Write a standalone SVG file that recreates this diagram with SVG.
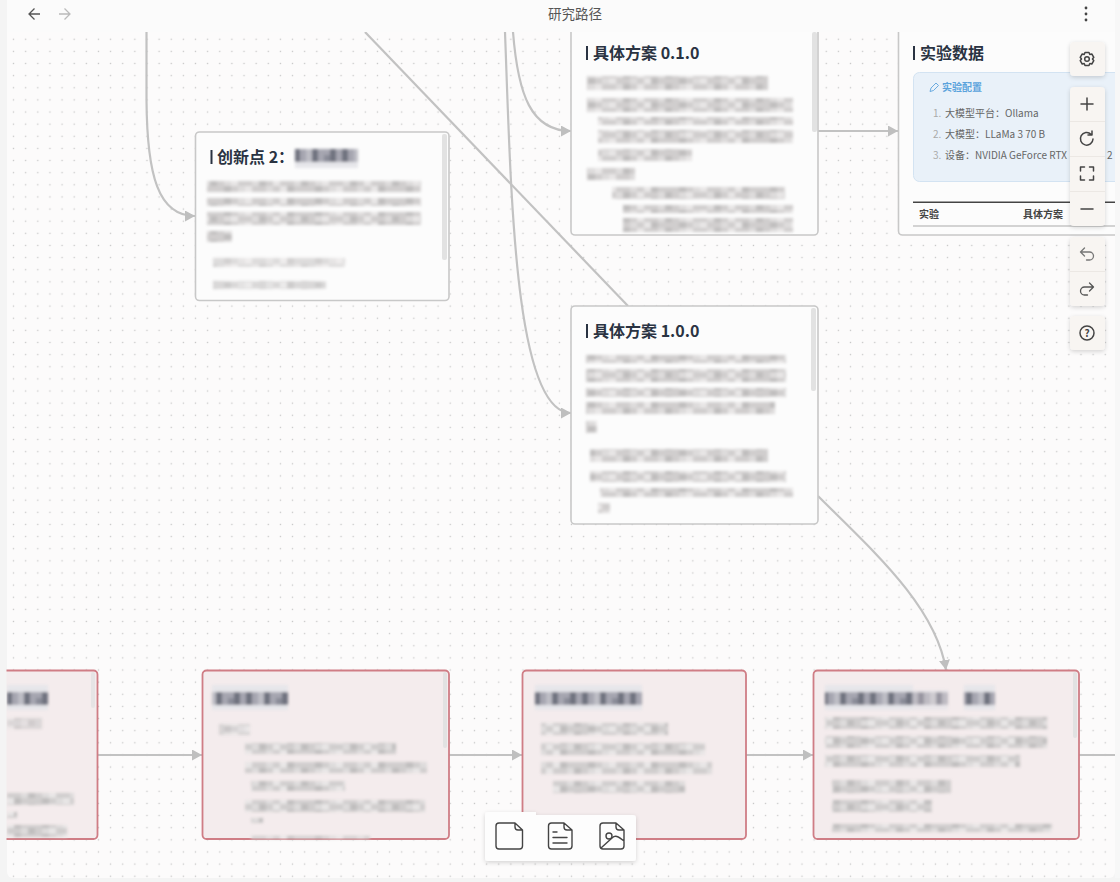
<svg xmlns="http://www.w3.org/2000/svg" width="1120" height="882" viewBox="0 0 1120 882">
<style>
text{font-family:"Noto Sans CJK SC","Noto Sans",sans-serif}
.card{fill:#fcfcfc;stroke:#c8c8c8;stroke-width:1.6}
.pink{fill:#f4eced;stroke:#cf7d85;stroke-width:1.8}
.edge{fill:none;stroke:#c2c2c2;stroke-width:2.2}
.t{font-size:16px;font-weight:700;fill:#2a3342}
.bar{fill:#2a3342}
.m{fill:url(#mos);mix-blend-mode:multiply}
.d{fill:url(#mosd);mix-blend-mode:multiply}
.sb{fill:#e2e2e2}
.li{font-size:10px;fill:#666}
.no{font-size:10px;fill:#aaa}
.th{font-size:10px;font-weight:700;fill:#444}
.tb{fill:#f8f5f2}
.ic{fill:none;stroke:#444;stroke-width:1.4;stroke-linecap:round;stroke-linejoin:round}
.ib{fill:none;stroke:#444;stroke-width:1.5;stroke-linecap:round;stroke-linejoin:round}
</style>
<defs>
<pattern id="dots" width="12.13" height="12.13" patternUnits="userSpaceOnUse" x="7.5" y="33.2"><rect x="5.4" y="5.4" width="1.3" height="1.3" fill="#c6c6c6"/></pattern>
<pattern id="mos" width="91" height="12" patternUnits="userSpaceOnUse">
<rect width="91" height="12" fill="#dedcdc"/>
<g fill="#d0cece">
<rect x="7" width="14" height="6"/><rect x="35" width="7" height="6"/><rect x="56" width="14" height="6"/><rect x="84" width="7" height="6"/>
<rect y="6" width="7" height="6"/><rect x="21" y="6" width="21" height="6"/><rect x="49" y="6" width="7" height="6"/><rect x="70" y="6" width="14" height="6"/>
</g>
<g fill="#c0bebe">
<rect x="14" y="6" width="7" height="6"/><rect x="42" y="6" width="7" height="6"/><rect x="77" width="7" height="6"/><rect x="28" width="7" height="6"/>
</g>
<g fill="#e8e6e6">
<rect width="7" height="6"/><rect x="49" width="7" height="6"/><rect x="7" y="6" width="7" height="6"/><rect x="63" y="6" width="7" height="6"/>
</g>
</pattern>
<pattern id="mosd" width="48" height="25" patternUnits="userSpaceOnUse" y="685">
<rect width="48" height="25" fill="#e6e6ea"/>
<rect y="7" width="48" height="13" fill="#a6a6b0"/>
<g fill="#70727f"><rect x="6" y="7" width="6" height="13"/><rect x="24" y="7" width="6" height="13"/><rect x="42" y="7" width="6" height="13"/></g>
<rect x="18" y="7" width="6" height="13" fill="#bdbdc5"/>
<rect x="36" y="13" width="6" height="7" fill="#8a8c98"/>
</pattern>
<filter id="bl" x="-5%" y="-20%" width="110%" height="140%"><feGaussianBlur stdDeviation="1.4"/></filter>
<filter id="sh" x="-20%" y="-20%" width="140%" height="140%"><feDropShadow dx="0" dy="1.5" stdDeviation="2" flood-color="#000" flood-opacity=".16"/></filter>
<marker id="ah" markerUnits="userSpaceOnUse" markerWidth="11" markerHeight="12" refX="10" refY="5.500" orient="auto"><path d="M0 0L10 5.500L0 11Z" fill="#bfbfbf"/></marker>
</defs>

<rect width="1120" height="882" fill="#f4f4f4"/>
<rect x="7" y="-10" width="1108" height="888" rx="6" fill="#fcfbfb"/>
<rect x="7" y="32" width="1108" height="846" fill="url(#dots)"/>

<g id="connectors">
<path class="edge" marker-end="url(#ah)" d="M146.500 32L146.500 100C147 175 158 216 195 216"/>
<path class="edge" d="M365 32L628 306"/>
<path class="edge" marker-end="url(#ah)" d="M505 32C511 190 514 413 571 413"/>
<path class="edge" marker-end="url(#ah)" d="M513 32C518 95 531 131 571 131"/>
<path class="edge" marker-end="url(#ah)" d="M818 131L898 131"/>
<path class="edge" marker-end="url(#ah)" d="M818 496C872 550 936 606 946 670"/>
<path class="edge" marker-end="url(#ah)" d="M97 755L202 755"/>
<path class="edge" marker-end="url(#ah)" d="M449 755L522 755"/>
<path class="edge" marker-end="url(#ah)" d="M746 755L813 755"/>
<path class="edge" d="M1079 755L1115 755"/>
</g>

<g id="node-innovation-2">
<rect class="card" x="195.500" y="132" width="253.500" height="168.500" rx="4"/>
<rect class="sb" x="442" y="134" width="5" height="126" rx="2"/>
<rect class="bar" x="210.500" y="150" width="2" height="14"/>
<text class="t" x="217" y="163">创新点 2：</text>
<g filter="url(#bl)">
<rect class="d" x="295" y="692" width="63" height="19" transform="translate(0,-543)"/>
<rect class="m" x="207" y="181" width="214" height="11"/>
<rect class="m" x="207" y="198" width="214" height="8"/>
<rect class="m" x="207" y="212" width="214" height="13"/>
<rect class="m" x="207" y="231" width="25" height="11"/>
<rect class="m" x="213" y="258" width="132" height="9" opacity=".7"/>
<rect class="m" x="213" y="281" width="113" height="8" opacity=".8"/>
</g>
</g>

<g id="node-plan-010">
<rect class="card" x="571" y="10" width="247" height="225" rx="4"/>
<rect class="sb" x="812" y="32" width="5" height="100" rx="2"/>
<rect class="bar" x="586" y="46" width="2" height="14"/>
<text class="t" x="593" y="59">具体方案 0.1.0</text>
<g filter="url(#bl)">
<rect class="m" x="587" y="76" width="181" height="14"/>
<rect class="m" x="587" y="98" width="206" height="14"/>
<rect class="m" x="598" y="117" width="195" height="8"/>
<rect class="m" x="598" y="130" width="195" height="13"/>
<rect class="m" x="598" y="149" width="94" height="12"/>
<rect class="m" x="587" y="168" width="48" height="12"/>
<rect class="m" x="612" y="187" width="173" height="12"/>
<rect class="m" x="623" y="205" width="170" height="8"/>
<rect class="m" x="623" y="218" width="170" height="14"/>
</g>
</g>

<g id="node-data">
<rect class="card" x="898.500" y="10" width="240" height="225" rx="4"/>
<rect class="bar" x="913" y="46" width="2" height="14"/>
<text class="t" x="920" y="59">实验数据</text>
<rect x="913.500" y="72.500" width="230" height="109" rx="6" fill="#e9f1f9" stroke="#d3e3f2"/>
<path d="M930 91.500L931 88L936 83L938.500 85.500L933.500 90.500Z" fill="none" stroke="#5ba3dc" stroke-width=".9"/>
<text x="942" y="91" font-size="10" font-weight="700" fill="#5ba3dc">实验配置</text>
<text class="no" x="933" y="117">1.</text><text class="li" x="945" y="117">大模型平台：Ollama</text>
<text class="no" x="933" y="138">2.</text><text class="li" x="945" y="138">大模型：LLaMa 3 70 B</text>
<text class="no" x="933" y="159">3.</text><text class="li" x="945" y="159">设备：NVIDIA GeForce RTX</text>
<text class="li" x="1107" y="159">2</text>
<rect x="913" y="201.500" width="203" height="1.500" fill="#444"/>
<rect x="913" y="225.500" width="203" height="1" fill="#aaa"/>
<text class="th" x="919" y="218">实验</text>
<text class="th" x="1023" y="218">具体方案</text>
</g>

<g id="node-plan-100">
<rect class="card" x="571" y="306" width="247" height="218" rx="4"/>
<rect class="sb" x="811" y="308" width="5" height="83" rx="2"/>
<rect class="bar" x="586" y="324" width="2" height="14"/>
<text class="t" x="593" y="337">具体方案 1.0.0</text>
<g filter="url(#bl)">
<rect class="m" x="586" y="355" width="200" height="8"/>
<rect class="m" x="586" y="369" width="200" height="13"/>
<rect class="m" x="586" y="388" width="200" height="9"/>
<rect class="m" x="586" y="402" width="189" height="12"/>
<rect class="m" x="586" y="421" width="11" height="12"/>
<rect class="m" x="590" y="449" width="178" height="13"/>
<rect class="m" x="590" y="471" width="196" height="11"/>
<rect class="m" x="600" y="488" width="193" height="9"/>
<rect class="m" x="598" y="503" width="12" height="10"/>
</g>
</g>

<g id="node-bottom-1">
<rect class="pink" x="-20" y="670.500" width="117.500" height="168.500" rx="4"/>
<rect class="sb" x="91" y="672" width="4" height="36" rx="2" opacity=".8"/>
<g filter="url(#bl)">
<rect class="d" x="7" y="685" width="41" height="25"/>
<rect class="m" x="7" y="718" width="35" height="11" opacity=".7"/>
<rect class="m" x="7" y="793" width="67" height="12"/>
<rect class="m" x="7" y="812" width="10" height="6"/>
<rect class="m" x="7" y="825" width="60" height="12"/>
</g>
</g>

<g id="node-bottom-2">
<rect class="pink" x="202.500" y="670.500" width="246.500" height="168.500" rx="4"/>
<rect class="sb" x="443" y="672" width="4" height="76" rx="2"/>
<g filter="url(#bl)">
<rect class="d" x="212" y="685" width="76" height="25"/>
<rect class="m" x="219" y="724" width="31" height="11" opacity=".8"/>
<rect class="m" x="245" y="743" width="151" height="11"/>
<rect class="m" x="245" y="762" width="182" height="11"/>
<rect class="m" x="251" y="781" width="94" height="10"/>
<rect class="m" x="245" y="800" width="180" height="12"/>
<rect class="m" x="251" y="818" width="12" height="5"/>
<rect class="m" x="251" y="836" width="119" height="3"/>
</g>
</g>

<g id="node-bottom-3">
<rect class="pink" x="522.500" y="670.500" width="223.500" height="168.500" rx="4"/>
<g filter="url(#bl)">
<rect class="d" x="535" y="685" width="107" height="25"/>
<rect class="m" x="541" y="723" width="127" height="12"/>
<rect class="m" x="541" y="743" width="164" height="12"/>
<rect class="m" x="541" y="762" width="171" height="12"/>
<rect class="m" x="553" y="781" width="132" height="12"/>
</g>
</g>

<g id="node-bottom-4">
<rect class="pink" x="813.500" y="670.500" width="265.500" height="168.500" rx="4"/>
<rect class="sb" x="1073" y="672" width="4" height="66" rx="2"/>
<g filter="url(#bl)">
<rect class="d" x="825" y="685" width="88" height="25"/>
<rect class="d" x="913" y="690" width="35" height="20" opacity=".7"/>
<rect class="d" x="964" y="685" width="31" height="25"/>
<rect class="m" x="825" y="717" width="222" height="12"/>
<rect class="m" x="825" y="736" width="222" height="12"/>
<rect class="m" x="825" y="755" width="195" height="12"/>
<rect class="m" x="832" y="780" width="119" height="13"/>
<rect class="m" x="832" y="800" width="100" height="12"/>
<rect class="m" x="832" y="824" width="220" height="8"/>
</g>
</g>

<g id="chrome">
<rect x="7" y="0" width="1108" height="32" fill="#fbfbfb"/>
<rect x="0" y="0" width="6.500" height="882" fill="#f4f4f4"/>
<rect x="1115" y="0" width="5" height="882" fill="#f7f7f7"/>
<rect x="0" y="878" width="1120" height="4" fill="#f4f4f4"/>
<path d="M40 14H29M34.500 8.500L29 14L34.500 19.500" fill="none" stroke="#555" stroke-width="1.300"/>
<path d="M59 14H70M64.500 8.500L70 14L64.500 19.500" fill="none" stroke="#bbb" stroke-width="1.300"/>
<text x="575" y="19" font-size="13.500" fill="#555" text-anchor="middle">研究路径</text>
<circle cx="1086" cy="8" r="1.400" fill="#444"/><circle cx="1086" cy="14" r="1.400" fill="#444"/><circle cx="1086" cy="20" r="1.400" fill="#444"/>
</g>

<g id="toolbar-right">
<rect class="tb" x="1070" y="42" width="35" height="34" rx="4" filter="url(#sh)"/>
<rect class="tb" x="1070" y="87" width="35" height="139" rx="4" filter="url(#sh)"/>
<rect class="tb" x="1070" y="237" width="35" height="69" rx="4" filter="url(#sh)"/>
<rect class="tb" x="1070" y="316" width="35" height="34" rx="4" filter="url(#sh)"/>
<path d="M1070 121.500H1105M1070 156.500H1105M1070 191.500H1105M1070 271.500H1105" stroke="#ece8e4"/>
<circle class="ib" cx="1087" cy="59" r="2.300"/>
<path class="ib" d="M1085 52.500H1089L1089.800 54.500L1091.800 54L1093.800 57.300L1092.500 59L1093.800 60.700L1091.800 64L1089.800 63.500L1089 65.500H1085L1084.200 63.500L1082.200 64L1080.200 60.700L1081.500 59L1080.200 57.300L1082.200 54L1084.200 54.500Z"/>
<path class="ib" d="M1081 104H1093M1087 98V110"/>
<path class="ib" d="M1093 139A6.300 6.300 0 1 1 1091 134.200M1092 131V135H1088"/>
<path class="ib" d="M1080.500 171V167H1084.500M1089.500 167H1093.500V171M1093.500 176V180H1089.500M1084.500 180H1080.500V176"/>
<path class="ib" d="M1081 209H1093"/>
<path d="M1084.500 248L1080.500 252L1084.500 256M1080.500 252H1089.500A4 4 0 0 1 1089.500 260H1086.500" fill="none" stroke="#777" stroke-width="1.300" stroke-linecap="round" stroke-linejoin="round"/>
<path d="M1089.500 283L1093.500 287L1089.500 291M1093.500 287H1084.500A4 4 0 0 0 1084.500 295H1087.500" fill="none" stroke="#555" stroke-width="1.300" stroke-linecap="round" stroke-linejoin="round"/>
<circle class="ib" cx="1087" cy="333" r="7"/>
<text x="1087" y="337" font-size="10" font-weight="700" fill="#444" text-anchor="middle">?</text>
</g>

<g id="toolbar-bottom">
<path d="M485 815a3 3 0 0 1 3-3H536V815H633a3 3 0 0 1 3 3V858a3 3 0 0 1-3 3H488a3 3 0 0 1-3-3Z" fill="#fdfdfd" filter="url(#sh)"/>
<path class="ic" d="M499 823H515L522.500 830V846a3 3 0 0 1-3 3H499a3 3 0 0 1-3-3V826a3 3 0 0 1 3-3ZM515 823V827a3 3 0 0 0 3 3H522.500"/>
<path class="ic" d="M551.500 823H564L572 830V846a3 3 0 0 1-3 3H551.500a3 3 0 0 1-3-3V826a3 3 0 0 1 3-3ZM564 823V827a3 3 0 0 0 3 3H572M553 832H557M553 837.500H567M553 843H567"/>
<path class="ic" d="M603 823H616L624 830V846a3 3 0 0 1-3 3H603a3 3 0 0 1-3-3V826a3 3 0 0 1 3-3ZM616 823V827a3 3 0 0 0 3 3H624M601 848L612 838C615 835 618 836 624 841"/>
<circle class="ic" cx="609" cy="836" r="3"/>
</g>
</svg>
